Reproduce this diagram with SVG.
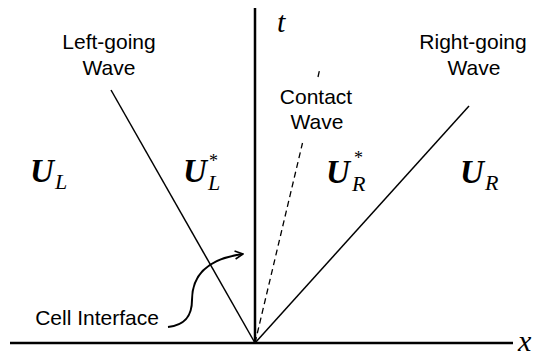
<svg xmlns="http://www.w3.org/2000/svg" width="535" height="354" viewBox="0 0 535 354">
<style>
.lbl{font-family:"Liberation Sans",Arial,sans-serif;font-size:21px;fill:#000;text-anchor:middle}
.U{font-family:"Liberation Serif","Times New Roman",serif;font-size:33px;font-weight:bold;font-style:italic;fill:#000}
.sub{font-family:"Liberation Serif","Times New Roman",serif;font-size:22px;font-style:italic;fill:#000}
.star{font-family:"Liberation Serif","Times New Roman",serif;font-size:18px;fill:#000}
.ax{font-family:"Liberation Serif","Times New Roman",serif;font-size:30px;font-style:italic;fill:#000}
.line{stroke:#000;fill:none}
</style>
<defs>
<marker id="arr" viewBox="0 0 10 10" refX="9" refY="5" markerWidth="10" markerHeight="10" markerUnits="userSpaceOnUse" orient="auto">
<path d="M1,1 L9,5 L1,9" fill="none" stroke="#000" stroke-width="1.6"/>
</marker>
</defs>
<g id="connectors">
<line class="line" x1="10" y1="343" x2="513" y2="343" stroke-width="2.5"/>
<line class="line" x1="255" y1="344" x2="255" y2="8" stroke-width="2.5"/>
<line class="line" x1="111" y1="90" x2="255" y2="343" stroke-width="1.5"/>
<line class="line" x1="469" y1="106" x2="255" y2="343" stroke-width="1.5"/>
<line class="line" x1="255" y1="343" x2="302.5" y2="143" stroke-width="1.3" stroke-dasharray="6,4"/>
<line class="line" x1="318" y1="77" x2="320" y2="68" stroke-width="1.3" stroke-dasharray="6,4"/>
<path class="line" d="M168,327 C186,325 192,315 192,300 C192,276 206,259 243,254" stroke-width="2" marker-end="url(#arr)"/>
</g>
<g id="axis-t"><text class="ax" x="277" y="32">t</text></g>
<g id="axis-x"><text class="ax" x="518" y="351">x</text></g>
<g id="left-going"><text class="lbl" x="109" y="49">Left-going</text><text class="lbl" x="109" y="75">Wave</text></g>
<g id="right-going"><text class="lbl" x="473" y="49">Right-going</text><text class="lbl" x="474" y="75">Wave</text></g>
<g id="contact"><text class="lbl" x="316" y="104">Contact</text><text class="lbl" x="317" y="129">Wave</text></g>
<g id="cell-interface"><text class="lbl" x="97" y="325">Cell Interface</text></g>
<g id="UL"><text class="U" x="30" y="182">U</text><text class="sub" x="55" y="189">L</text></g>
<g id="ULs"><text class="U" x="183" y="182">U</text><text class="sub" x="208" y="190">L</text><text class="star" x="209" y="167">*</text></g>
<g id="URs"><text class="U" x="326" y="183">U</text><text class="sub" x="352" y="191">R</text><text class="star" x="354" y="164">*</text></g>
<g id="UR"><text class="U" x="460" y="183">U</text><text class="sub" x="485" y="190">R</text></g>
</svg>
